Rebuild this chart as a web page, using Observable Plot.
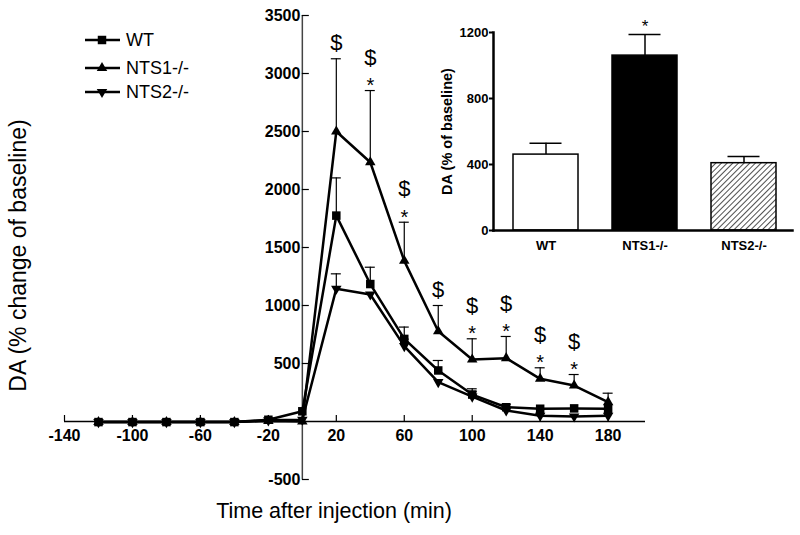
<!DOCTYPE html>
<html>
<head>
<meta charset="utf-8">
<script src="https://cdn.jsdelivr.net/npm/d3@7"></script>
<script src="https://cdn.jsdelivr.net/npm/@observablehq/plot@0.6"></script>
<style>
  html, body { margin: 0; padding: 0; background: #fff; }
  #wrap { position: relative; width: 800px; height: 535px; font-family: "Liberation Sans", Arial, sans-serif; }
  #wrap svg { position: absolute; }
</style>
</head>
<body>
<div id="wrap"></div>
<script>
// ---------- Data ----------
const times = [-120, -100, -80, -60, -40, -20, 0, 20, 40, 60, 80, 100, 120, 140, 160, 180];
const wtMean   = [-5, -5, -5, -5, -5, 15, 88, 1775, 1185, 712, 440, 232, 123, 110, 113, 110];
const wtErr    = [null, null, null, null, null, null, null, 325, 145, 102, 86, 50, 25, null, null, null];
const nts1Mean = [-5, -5, -5, -5, -5, 5, 0, 2500, 2235, 1385, 778, 535, 546, 368, 310, 167];
const nts1Err  = [null, null, null, null, null, null, null, 627, 618, 333, 222, 178, 187, 95, 95, 77];
const nts2Mean = [-5, -5, -5, -5, -5, 10, 15, 1145, 1095, 650, 340, 215, 95, 50, 43, 50];
const nts2Err  = [null, null, null, null, null, null, null, 128, null, 60, null, 45, null, null, null, null];
const seriesNames = ["WT", "NTS1-/-", "NTS2-/-"];
const dollarTimes = [20, 40, 60, 80, 100, 120, 140, 160];
const starTimes = [40, 60, 100, 120, 140, 160];
const xTicks = [-140, -100, -60, -20, 20, 60, 100, 140, 180];
const yTicks = [-500, 500, 1000, 1500, 2000, 2500, 3000, 3500];
const xDomain = [-140, 202];
const yDomain = [-500, 3500];

// Inset bar chart
const barCats = ["WT", "NTS1-/-", "NTS2-/-"];
const barMean = [460, 1060, 408];
const barErr  = [69, 128, 40];
const barTicks = [0, 400, 800, 1200];
const barStarCats = ["NTS1-/-"];

// ---------- Layout ----------
const W = 800, H = 535;
const mL = 64, mR = 155, mT = 15, mB = 56;
const pxPerX = (W - mL - mR) / (xDomain[1] - xDomain[0]);
const pxPerY = (H - mT - mB) / (yDomain[1] - yDomain[0]);
const FONT = "Liberation Sans, Arial, sans-serif";

function rows(mean, err) {
  return times.map((t, i) => ({t, v: mean[i], e: err[i], top: err[i] == null ? null : mean[i] + err[i]}));
}
const wt = rows(wtMean, wtErr), nts1 = rows(nts1Mean, nts1Err), nts2 = rows(nts2Mean, nts2Err);
const allErr = [...wt, ...nts1, ...nts2].filter(d => d.e != null);
const capHalf = 5 / pxPerX;
const xTickLen = 6 / pxPerY;
const yTickLen = 7 / pxPerX;
const nts1Top = new Map(nts1.map(d => [d.t, d.top]));
const dollarsWithStar = dollarTimes.filter(t => starTimes.includes(t)).map(t => ({t, top: nts1Top.get(t)}));
const dollarsAlone = dollarTimes.filter(t => !starTimes.includes(t)).map(t => ({t, top: nts1Top.get(t)}));
const stars = starTimes.map(t => ({t, top: nts1Top.get(t)}));

const main = Plot.plot({
  width: W, height: H,
  marginLeft: mL, marginRight: mR, marginTop: mT, marginBottom: mB,
  x: {domain: xDomain, axis: null},
  y: {domain: yDomain, axis: null},
  style: {fontFamily: FONT, background: "transparent", color: "black"},
  marks: [
    // axes
    Plot.ruleY([0], {stroke: "black", strokeWidth: 1.5}),
    Plot.ruleX([0], {stroke: "#444", strokeWidth: 1.5}),
    Plot.ruleX(xTicks, {x: d => d, y1: 0, y2: xTickLen, stroke: "black", strokeWidth: 1.2}),
    Plot.ruleY(yTicks, {y: d => d, x1: 0, x2: yTickLen, stroke: "black", strokeWidth: 1.2}),
    Plot.text(xTicks, {x: d => d, y: 0, dy: 14, text: d => String(d), fontSize: 16, fontWeight: "bold"}),
    Plot.text(yTicks, {x: 0, y: d => d, dx: -2, text: d => String(d), textAnchor: "end", fontSize: 16, fontWeight: "bold"}),
    // error bars
    Plot.ruleX(allErr, {x: "t", y1: "v", y2: "top", stroke: "black", strokeWidth: 1.2}),
    Plot.ruleY(allErr, {y: "top", x1: d => d.t - capHalf, x2: d => d.t + capHalf, stroke: "black", strokeWidth: 1.2}),
    // lines
    Plot.line(wt, {x: "t", y: "v", stroke: "black", strokeWidth: 2.5}),
    Plot.line(nts1, {x: "t", y: "v", stroke: "black", strokeWidth: 2.5}),
    Plot.line(nts2, {x: "t", y: "v", stroke: "black", strokeWidth: 2.5}),
    // markers
    Plot.dot(wt, {x: "t", y: "v", symbol: "square", r: 4.8, fill: "black"}),
    Plot.dot(nts1, {x: "t", y: "v", symbol: "triangle", r: 3.9, fill: "black"}),
    Plot.dot(nts2, {x: "t", y: "v", symbol: "triangle", r: 3.9, fill: "black", rotate: 180}),
    // significance marks
    Plot.text(dollarsAlone, {x: "t", y: "top", dy: -16, text: () => "$", fontSize: 22}),
    Plot.text(dollarsWithStar, {x: "t", y: "top", dy: -33, text: () => "$", fontSize: 22}),
    Plot.text(stars, {x: "t", y: "top", dy: -5, text: () => "*", fontSize: 20}),
    // axis titles
    Plot.text(["Time after injection (min)"], {frameAnchor: "bottom", textAnchor: "middle", dx: -21, dy: 38, fontSize: 21.5}),
    Plot.text(["DA (% change of baseline)"], {frameAnchor: "left", textAnchor: "middle", rotate: -90, dx: -46, dy: 8, fontSize: 23})
  ]
});
main.style.left = "0px";
main.style.top = "0px";

// legend drawn into the main svg
const legendRows = [
  {name: seriesNames[0], sym: d3.symbolSquare, size: 72, rot: 0, y: 40},
  {name: seriesNames[1], sym: d3.symbolTriangle, size: 48, rot: 0, y: 68},
  {name: seriesNames[2], sym: d3.symbolTriangle, size: 48, rot: 180, y: 92}
];
const lg = d3.select(main).append("g").attr("font-family", FONT).attr("text-anchor", "start");
legendRows.forEach(r => {
  const g = lg.append("g").attr("transform", `translate(0,${r.y})`);
  g.append("line").attr("x1", 85).attr("x2", 120).attr("stroke", "black").attr("stroke-width", 2.5);
  g.append("path").attr("d", d3.symbol(r.sym, r.size)()).attr("transform", `translate(102,0) rotate(${r.rot})`).attr("fill", "black");
  g.append("text").attr("x", 126).attr("dy", "0.35em").attr("font-size", 18).attr("text-anchor", "start").text(r.name);
});

// ---------- Inset ----------
const bars = barCats.map((c, i) => ({c, v: barMean[i], top: barMean[i] + barErr[i]}));
const inset = Plot.plot({
  width: 380, height: 270,
  marginLeft: 73, marginRight: 8, marginTop: 32, marginBottom: 40,
  x: {domain: barCats, paddingInner: 0.34, paddingOuter: 0.165, align: 0.55, label: null},
  y: {domain: [0, 1200], label: null},
  style: {fontFamily: FONT, background: "transparent", color: "black"},
  marks: [
    Plot.ruleX(bars, {x: "c", y1: "v", y2: "top", stroke: "black", strokeWidth: 1.5}),
    Plot.tickY(bars, {x: "c", y: "top", stroke: "black", strokeWidth: 1.5, insetLeft: 16.5, insetRight: 16.5}),
    Plot.barY(bars.filter(d => d.c === barCats[0]), {x: "c", y: "v", fill: "white", stroke: "black", strokeWidth: 1.5}),
    Plot.barY(bars.filter(d => d.c === barCats[1]), {x: "c", y: "v", fill: "black", stroke: "black", strokeWidth: 1.5}),
    Plot.barY(bars.filter(d => d.c === barCats[2]), {x: "c", y: "v", fill: "url(#hatch)", stroke: "black", strokeWidth: 1.5}),
    Plot.text(bars.filter(d => barStarCats.includes(d.c)), {x: "c", y: "top", dy: -8, text: () => "*", fontSize: 17}),
    Plot.axisY({ticks: barTicks, tickFormat: d => String(d), tickSize: 4, tickPadding: 1, fontSize: 13, fontWeight: "bold", label: null, strokeWidth: 2}),
    Plot.axisX({tickSize: 0, tickPadding: 10, fontSize: 13, fontWeight: "bold", label: null}),
    Plot.frame({anchor: "left", strokeWidth: 2.5}),
    Plot.frame({anchor: "bottom", strokeWidth: 2.5}),
    Plot.text(["DA (% of baseline)"], {frameAnchor: "left", textAnchor: "middle", rotate: -90, dx: -46, fontSize: 14.5, fontWeight: "bold"})
  ]
});
inset.style.left = "420px";
inset.style.top = "0px";
const defs = d3.select(inset).insert("defs", ":first-child");
const pat = defs.append("pattern").attr("id", "hatch").attr("patternUnits", "userSpaceOnUse")
  .attr("width", 4).attr("height", 4).attr("patternTransform", "rotate(45)");
pat.append("rect").attr("width", 4).attr("height", 4).attr("fill", "white");
pat.append("line").attr("x1", 0).attr("y1", 0).attr("x2", 0).attr("y2", 4).attr("stroke", "#222").attr("stroke-width", 1.6);

const wrap = document.getElementById("wrap");
wrap.appendChild(main);
wrap.appendChild(inset);
</script>
</body>
</html>
